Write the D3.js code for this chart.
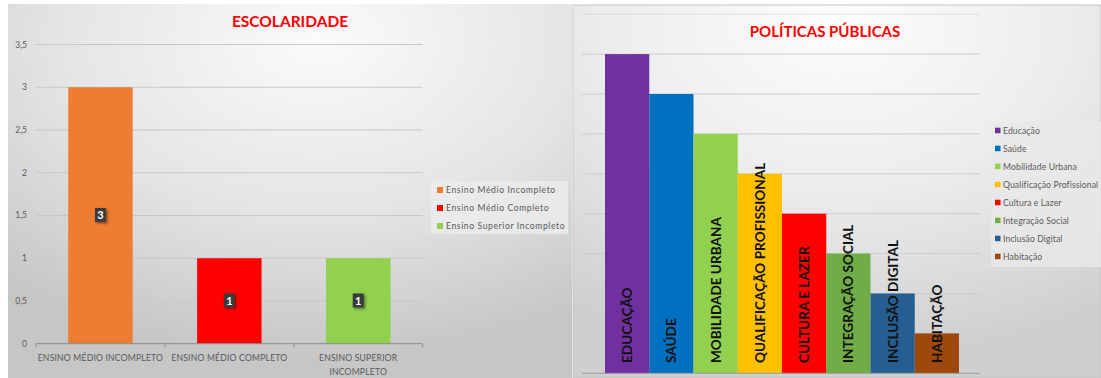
<!DOCTYPE html>
<html>
<head>
<meta charset="utf-8">
<script src="https://cdn.jsdelivr.net/npm/d3@7"></script>
<style>
  body { margin: 0; background: #fff; }
  svg { display: block; }
  text { font-family: Lato, "Open Sans", sans-serif; }
</style>
</head>
<body>
<div id="chart"></div>
<script>
// escolaridade data
let escCategories = ["Ensino Médio Incompleto", "Ensino Médio Completo", "Ensino Superior Incompleto"];
let escAxisLabels = [["ENSINO MÉDIO INCOMPLETO"], ["ENSINO MÉDIO COMPLETO"], ["ENSINO SUPERIOR", "INCOMPLETO"]];
let escValues = [3, 1, 1];
let escColors = ["#ED7D31", "#FF0000", "#92D050"];
let escTicks = [0, 0.5, 1, 1.5, 2, 2.5, 3, 3.5];

// politicas publicas data
let polSeries = ["Educação", "Saúde", "Mobilidade Urbana", "Qualificação Profissional", "Cultura e Lazer", "Integração Social", "Inclusão Digital", "Habitação"];
let polBarLabels = ["EDUCAÇÃO", "SAÚDE", "MOBILIDADE URBANA", "QUALIFICAÇÃO PROFISSIONAL", "CULTURA E LAZER", "INTEGRAÇÃO SOCIAL", "INCLUSÃO DIGITAL", "HABITAÇÃO"];
let polValues = [8, 7, 6, 5, 4, 3, 2, 1];
let polColors = ["#7030A0", "#0070C0", "#92D050", "#FFC000", "#FF0000", "#70AD47", "#255E91", "#9E480E"];
let polTicks = [0, 1, 2, 3, 4, 5, 6, 7, 8, 9];

let W = 1101, H = 378;
let svg = d3.select("#chart").append("svg").attr("width", W).attr("height", H);
let defs = svg.append("defs");

// panel backgrounds
let g1 = defs.append("radialGradient").attr("id", "bgLeft")
    .attr("cx", "55%").attr("cy", "10%").attr("r", "85%");
g1.append("stop").attr("offset", "0%").attr("stop-color", "#fbfbfb");
g1.append("stop").attr("offset", "55%").attr("stop-color", "#e4e4e4");
g1.append("stop").attr("offset", "100%").attr("stop-color", "#c6c6c6");

let g2 = defs.append("radialGradient").attr("id", "bgRight")
    .attr("cx", "50%").attr("cy", "5%").attr("r", "90%");
g2.append("stop").attr("offset", "0%").attr("stop-color", "#fdfdfd");
g2.append("stop").attr("offset", "50%").attr("stop-color", "#ececec");
g2.append("stop").attr("offset", "100%").attr("stop-color", "#cfcfcf");

let shadow = defs.append("filter").attr("id", "shadow")
    .attr("x", "-50%").attr("y", "-50%").attr("width", "200%").attr("height", "200%");
shadow.append("feDropShadow").attr("dx", 1.5).attr("dy", 1.5).attr("stdDeviation", 1.2)
    .attr("flood-color", "#000").attr("flood-opacity", 0.45);

svg.append("rect").attr("x", 8).attr("y", 4).attr("width", 564).attr("height", H - 4)
    .attr("fill", "url(#bgLeft)");
svg.append("rect").attr("x", 573).attr("y", 5).attr("width", W - 573).attr("height", H - 5)
    .attr("fill", "url(#bgRight)").attr("stroke", "#c4c4c4").attr("stroke-width", 1);

/* ---------- ESCOLARIDADE ---------- */
let esc = svg.append("g");
let escX = d3.scaleBand().domain(escCategories).range([36, 422.7]).paddingInner(0).paddingOuter(0);
let escY = d3.scaleLinear().domain([0, 3.5]).range([343.7, 44.5]);

// gridlines
esc.selectAll(".grid").data(escTicks.slice(1)).enter().append("line")
    .attr("x1", 36).attr("x2", 422.7)
    .attr("y1", d => escY(d)).attr("y2", d => escY(d))
    .attr("stroke", "#c8c8c8").attr("stroke-width", 1);

// y axis labels
esc.selectAll(".ylab").data(escTicks).enter().append("text")
    .attr("x", 27).attr("y", d => escY(d) + 3)
    .attr("text-anchor", "end").attr("font-size", 8.5).attr("fill", "#595959")
    .text(d => String(d).replace(".", ","));

// bars
esc.selectAll(".bar").data(escValues).enter().append("rect")
    .attr("x", (d, i) => escX(escCategories[i]) + escX.bandwidth() / 4)
    .attr("width", escX.bandwidth() / 2)
    .attr("y", d => escY(d))
    .attr("height", d => escY(0) - escY(d))
    .attr("fill", (d, i) => escColors[i]);

// baseline + ticks
esc.append("line").attr("x1", 36).attr("x2", 422.7)
    .attr("y1", escY(0)).attr("y2", escY(0))
    .attr("stroke", "#8c8c8c").attr("stroke-width", 1);
let escBounds = escCategories.map(c => escX(c)).concat([422.7]);
esc.selectAll(".tick").data(escBounds).enter().append("line")
    .attr("x1", d => d).attr("x2", d => d)
    .attr("y1", escY(0)).attr("y2", escY(0) + 3.5)
    .attr("stroke", "#8c8c8c");

// data labels
escValues.forEach((v, i) => {
    let cx = escX(escCategories[i]) + escX.bandwidth() / 2;
    let cy = (escY(v) + escY(0)) / 2;
    esc.append("rect").attr("x", cx - 5.5).attr("y", cy - 7.5)
        .attr("width", 11).attr("height", 14)
        .attr("fill", "#3b3b3b").attr("filter", "url(#shadow)");
    esc.append("text").attr("x", cx).attr("y", cy + 4)
        .attr("text-anchor", "middle").attr("font-size", 11).attr("font-weight", "bold")
        .attr("fill", "#fff").text(v);
});

// category labels
escAxisLabels.forEach((lines, i) => {
    let cx = escX(escCategories[i]) + escX.bandwidth() / 2;
    lines.forEach((l, j) => {
        esc.append("text").attr("x", cx).attr("y", 360.5 + j * 14)
            .attr("text-anchor", "middle").attr("font-size", 8.6)
            .attr("fill", "#595959").attr("letter-spacing", 0.2).text(l);
    });
});

// title
esc.append("text").attr("x", 290).attr("y", 26.5).attr("text-anchor", "middle")
    .attr("font-size", 15.5).attr("font-weight", "bold").attr("fill", "#FF0000")
    .text("ESCOLARIDADE");

// legend
esc.append("rect").attr("x", 431).attr("y", 181).attr("width", 137).attr("height", 53)
    .attr("fill", "#ececec").attr("opacity", 0.8);
escCategories.forEach((c, i) => {
    let y = 190 + i * 18;
    esc.append("rect").attr("x", 437).attr("y", y - 3).attr("width", 6).attr("height", 6)
        .attr("fill", escColors[i]);
    esc.append("text").attr("x", 446).attr("y", y + 3)
        .attr("font-size", 8.6).attr("letter-spacing", 0.6).attr("fill", "#595959").text(c);
});

/* ---------- POLITICAS PUBLICAS ---------- */
let pol = svg.append("g");
let polX = d3.scaleBand().domain(polSeries).range([605, 959]).padding(0);
let polY = d3.scaleLinear().domain([0, 9]).range([373.3, 14.2]);

pol.selectAll(".grid").data(polTicks.slice(1)).enter().append("line")
    .attr("x1", 582).attr("x2", 980)
    .attr("y1", d => polY(d)).attr("y2", d => polY(d))
    .attr("stroke", "#cdcdcd").attr("stroke-width", 1)
    .attr("opacity", d => d === 9 ? 0.5 : 1);

pol.selectAll(".bar").data(polValues).enter().append("rect")
    .attr("x", (d, i) => polX(polSeries[i]))
    .attr("width", polX.bandwidth())
    .attr("y", d => polY(d))
    .attr("height", d => polY(0) - polY(d))
    .attr("fill", (d, i) => polColors[i]);

pol.append("line").attr("x1", 582).attr("x2", 980)
    .attr("y1", polY(0)).attr("y2", polY(0))
    .attr("stroke", "#9a9a9a").attr("stroke-width", 1);

// rotated bar labels
polBarLabels.forEach((l, i) => {
    let cx = polX(polSeries[i]) + polX.bandwidth() / 2;
    pol.append("text")
        .attr("transform", `translate(${cx + 5}, 363) rotate(-90)`)
        .attr("font-size", 13.6).attr("font-weight", "bold").attr("fill", "#111")
        .text(l);
});

// title
pol.append("text").attr("x", 825).attr("y", 36.5).attr("text-anchor", "middle")
    .attr("font-size", 15).attr("font-weight", "bold").attr("fill", "#FF0000")
    .text("POLÍTICAS PÚBLICAS");

// legend
pol.append("rect").attr("x", 991).attr("y", 122).attr("width", 115).attr("height", 145)
    .attr("fill", "#e9e9e9").attr("opacity", 0.8);
polSeries.forEach((s, i) => {
    let y = 130.7 + i * 18;
    pol.append("rect").attr("x", 995).attr("y", y - 3).attr("width", 5.5).attr("height", 5.5)
        .attr("fill", polColors[i]);
    pol.append("text").attr("x", 1003).attr("y", y + 3)
        .attr("font-size", 8.6).attr("letter-spacing", 0.12).attr("fill", "#595959").text(s);
});
</script>
</body>
</html>
